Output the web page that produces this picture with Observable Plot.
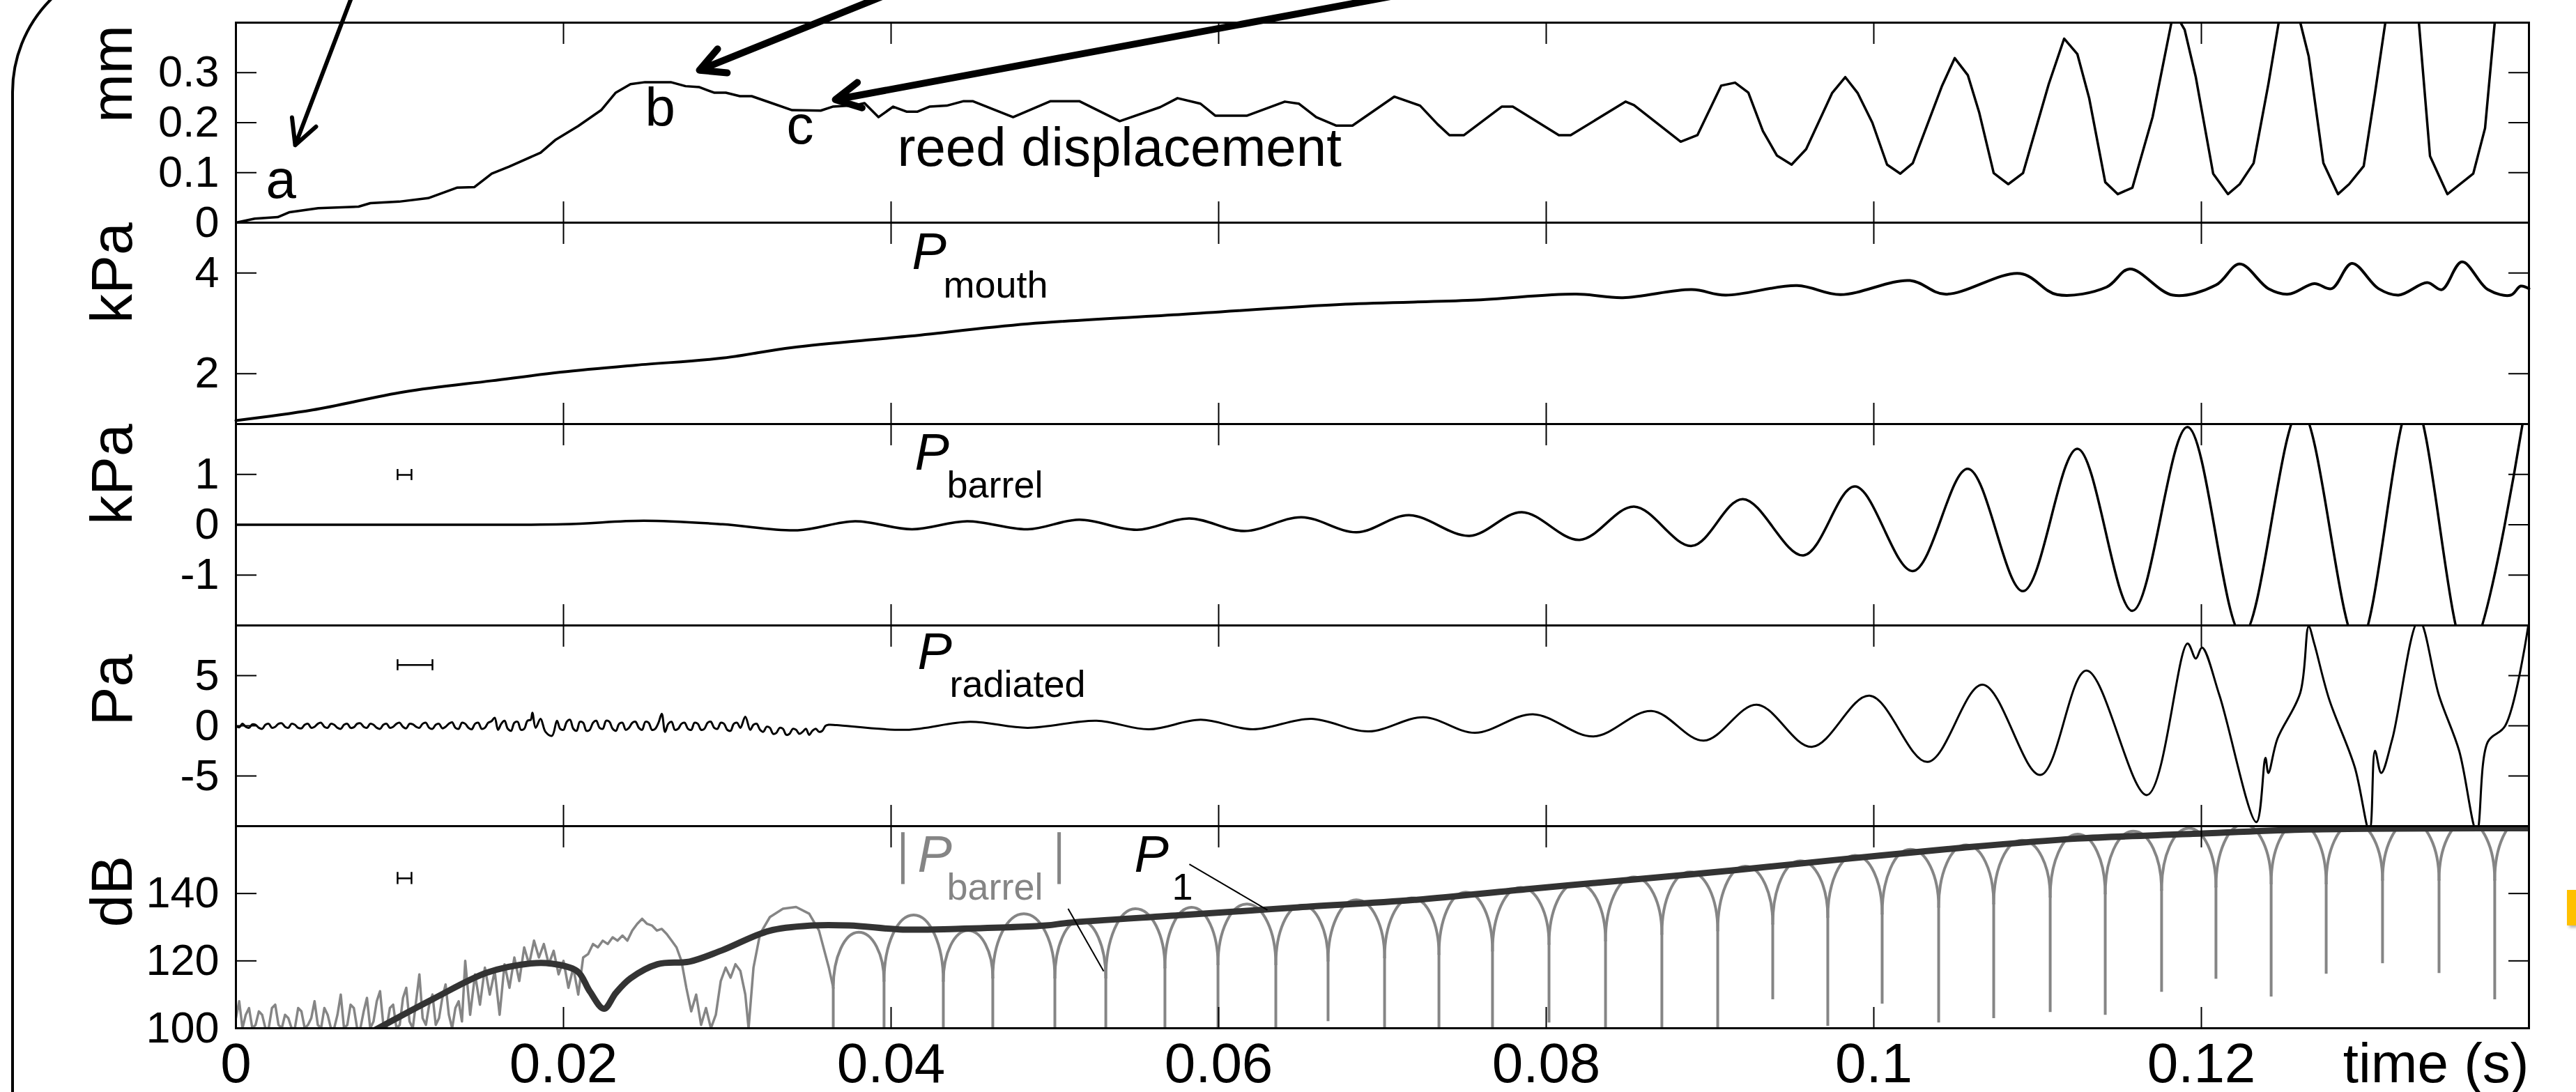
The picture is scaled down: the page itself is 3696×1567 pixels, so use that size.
<!DOCTYPE html>
<html>
<head>
<meta charset="utf-8">
<script src="https://cdn.jsdelivr.net/npm/d3@7"></script>
<script src="https://cdn.jsdelivr.net/npm/@observablehq/plot@0.6"></script>
<style>
html, body { margin: 0; padding: 0; background: #fff; }
body { width: 3696px; height: 1567px; overflow: hidden; position: relative; font-family: "Liberation Sans", Arial, sans-serif; }
#chart { position: absolute; left: 0; top: 0; width: 3696px; height: 1567px; }
.slide-frame { position: absolute; left: 16px; top: -58px; width: 4200px; height: 2200px; border: 4px solid #000; border-radius: 190px; box-sizing: border-box; }
.tab { position: absolute; left: 3683px; top: 1277px; width: 13px; height: 51px; background: #FFC000; box-shadow: 3px 3px 4px rgba(0,0,0,0.3); }
</style>
</head>
<body>
<div class="slide-frame"></div>
<div class="tab"></div>
<div id="chart"></div>
<script>
// ---------------- DATA ----------------
const xTicks = [0, 0.02, 0.04, 0.06, 0.08, 0.1, 0.12];

// Panel 1: reed displacement (mm) — [time s, mm]
const reedDisplacement = [
  [0,0],[0.00115,0.008],[0.00255,0.011],[0.00328,0.021],[0.00502,0.029],[0.00749,0.032],[0.00821,0.039],
  [0.00996,0.042],[0.01174,0.049],[0.01349,0.070],[0.01455,0.071],[0.01562,0.098],[0.01668,0.112],
  [0.0186,0.140],[0.01949,0.165],[0.02089,0.193],[0.0223,0.225],[0.02319,0.260],[0.02409,0.277],
  [0.02498,0.281],[0.02655,0.281],[0.02745,0.273],[0.0283,0.271],[0.02919,0.260],[0.02991,0.260],
  [0.03077,0.253],[0.03149,0.253],[0.03272,0.239],[0.03396,0.225],[0.0357,0.224],[0.03643,0.232],
  [0.03783,0.235],[0.03838,0.239],[0.03923,0.211],[0.04013,0.232],[0.04094,0.222],[0.04162,0.222],
  [0.04234,0.232],[0.0434,0.234],[0.04443,0.243],[0.04498,0.243],[0.04745,0.211],[0.04974,0.243],
  [0.05149,0.243],[0.05396,0.203],[0.05643,0.231],[0.05749,0.249],[0.05889,0.238],[0.05979,0.214],
  [0.06174,0.214],[0.06404,0.242],[0.06489,0.238],[0.06596,0.211],[0.06719,0.194],[0.06817,0.194],
  [0.07072,0.252],[0.0723,0.234],[0.07336,0.197],[0.07409,0.175],[0.07498,0.175],[0.07728,0.232],
  [0.07796,0.232],[0.08077,0.175],[0.08149,0.175],[0.08485,0.242],[0.08536,0.235],[0.08821,0.162],
  [0.08923,0.175],[0.09068,0.274],[0.09153,0.280],[0.09234,0.260],[0.09323,0.183],[0.09409,0.134],
  [0.09498,0.116],[0.09587,0.147],[0.09745,0.259],[0.09826,0.291],[0.09902,0.259],[0.09991,0.200],
  [0.10081,0.116],[0.10162,0.098],[0.10238,0.119],[0.10417,0.274],[0.10494,0.329],[0.10574,0.295],
  [0.10643,0.221],[0.10732,0.099],[0.10821,0.077],[0.10911,0.099],[0.11068,0.277],[0.11162,0.368],
  [0.11243,0.337],[0.11315,0.249],[0.11413,0.081],[0.11489,0.057],[0.11579,0.070],[0.11702,0.211],
  [0.11817,0.400],[0.11855,0.41],[0.11898,0.386],[0.11966,0.291],[0.12072,0.098],[0.12162,0.057],
  [0.12234,0.077],[0.12319,0.119],[0.12409,0.277],[0.12472,0.40],[0.1254,0.46],[0.12604,0.40],
  [0.12655,0.333],[0.12745,0.119],[0.12834,0.057],[0.12902,0.077],[0.12991,0.113],[0.1306,0.259],
  [0.13123,0.40],[0.13226,0.48],[0.13328,0.40],[0.13396,0.133],[0.13502,0.057],[0.1366,0.098],
  [0.13732,0.189],[0.13791,0.40],[0.13979,0.55]
];

// Panel 2: mouth pressure (kPa)
const mouthPressure = [
  [0,1.07],[0.00468,1.28],[0.0103,1.64],[0.01562,1.86],[0.01983,2.03],[0.02443,2.17],[0.0297,2.31],
  [0.03396,2.52],[0.04094,2.74],[0.04834,2.99],[0.05783,3.18],[0.06774,3.38],[0.07549,3.46],
  [0.08183,3.58],[0.08468,3.51],[0.08889,3.67],[0.09094,3.56],[0.09532,3.75],[0.09796,3.57],
  [0.10221,3.85],[0.10434,3.58],[0.10894,3.99],[0.11119,3.57],[0.11421,3.72],[0.11562,4.08],
  [0.11826,3.56],[0.12089,3.76],[0.12234,4.18],[0.12409,3.69],[0.12532,3.58],[0.12689,3.79],
  [0.12796,3.69],[0.12919,4.19],[0.13081,3.69],[0.13204,3.56],[0.13379,3.81],[0.13468,3.67],
  [0.13591,4.22],[0.13749,3.67],[0.13889,3.56],[0.13949,3.74],[0.14,3.69]
];

// Panel 3: barrel pressure (kPa)
const barrelPressure = [
  [0,0],[0.0111,0.0],[0.02,0.01],[0.0249,0.08],[0.0297,0.01],[0.0343,-0.11],[0.0378,0.07],
  [0.04128,-0.09],[0.04464,0.07],[0.04834,-0.09],[0.05149,0.10],[0.05502,-0.10],[0.05821,0.125],
  [0.06157,-0.125],[0.06506,0.15],[0.06843,-0.15],[0.07162,0.19],[0.07532,-0.22],[0.07851,0.25],
  [0.08204,-0.30],[0.08536,0.36],[0.08889,-0.42],[0.092,0.51],[0.0957,-0.61],[0.09885,0.76],
  [0.10238,-0.92],[0.10574,1.11],[0.10911,-1.32],[0.11243,1.51],[0.11579,-1.71],[0.11915,1.94],
  [0.12251,-2.2],[0.12604,2.3],[0.12957,-2.4],[0.13289,2.5],[0.13626,-2.6],[0.1399,2.6]
];

// Panel 4: radiated pressure (Pa)
const radiatedPressure = [
  [0,0.0],[0.0002,-0.15],[0.0004,0.2],[0.0006,-0.1],[0.0008,-0.2],[0.001,0.15],[0.0012,0.1],[0.0014,-0.2],
  [0.0016,-0.3],[0.0018,0.1],[0.002,0.2],[0.0022,-0.2],[0.0024,-0.1],[0.0026,0.2],[0.0028,0.25],
  [0.003,-0.1],[0.0032,-0.2],[0.0034,0.2],[0.0036,0.1],[0.0038,-0.2],[0.004,-0.25],[0.0042,0.1],
  [0.0044,0.2],[0.0046,-0.2],[0.0048,-0.1],[0.005,0.2],[0.0052,0.3],[0.0054,-0.1],[0.0056,-0.2],
  [0.0058,0.2],[0.006,0.1],[0.0062,-0.2],[0.0064,-0.3],[0.0066,0.1],[0.0068,0.2],[0.007,-0.2],
  [0.0072,-0.15],[0.0074,0.2],[0.0076,0.25],[0.0078,-0.1],[0.008,-0.2],[0.0082,0.2],[0.0084,0.1],
  [0.0086,-0.2],[0.0088,-0.3],[0.009,0.1],[0.0092,0.2],[0.0094,-0.2],[0.0096,-0.1],[0.0098,0.2],
  [0.01,0.3],[0.0102,-0.1],[0.0104,-0.25],[0.0106,0.2],[0.0108,0.15],[0.011,-0.1],[0.0112,-0.2],
  [0.0114,0.2],[0.0116,0.3],[0.0118,-0.2],[0.012,-0.3],[0.0122,0.1],[0.0124,0.2],[0.0126,-0.25],
  [0.0128,-0.1],[0.013,0.2],[0.0132,0.35],[0.0134,-0.2],[0.0136,-0.3],[0.0138,0.3],[0.014,0.2],
  [0.0142,-0.2],[0.0144,-0.35],[0.0146,0.2],[0.0148,0.3],[0.015,-0.3],[0.0152,-0.2],[0.0154,0.3],
  [0.0156,0.45],[0.0158,0.8],[0.016,-0.4],[0.0162,0.2],[0.0164,0.5],[0.0166,-0.3],[0.0168,-0.5],
  [0.017,0.3],[0.0172,0.4],[0.0174,-0.4],[0.0176,-0.3],[0.0178,0.5],[0.018,0.6],[0.0181,1.3],
  [0.0183,-0.2],[0.0186,0.7],[0.0189,-0.6],[0.0193,-1.0],[0.0196,0.5],[0.0198,-0.3],[0.02,-0.4],
  [0.0202,0.4],[0.0204,0.6],[0.0206,-0.3],[0.0208,-0.5],[0.021,0.4],[0.0212,0.3],[0.0214,-0.5],
  [0.0216,-0.4],[0.0218,0.3],[0.022,0.5],[0.0222,-0.2],[0.0224,-0.3],[0.0226,0.5],[0.0228,0.4],
  [0.023,-0.3],[0.0232,-0.5],[0.0234,0.2],[0.0236,0.3],[0.0238,-0.4],[0.024,-0.2],[0.0242,0.3],
  [0.0244,0.4],[0.0246,-0.2],[0.0248,-0.4],[0.025,0.4],[0.0252,0.3],[0.0254,-0.4],[0.0256,-0.3],
  [0.0258,0.3],[0.026,1.2],[0.0262,-0.6],[0.0264,0.2],[0.0266,0.4],[0.0268,-0.4],[0.027,-0.3],
  [0.0272,0.2],[0.0274,0.3],[0.0276,-0.3],[0.0278,-0.4],[0.028,0.3],[0.0282,0.2],[0.0284,-0.4],
  [0.0286,-0.3],[0.0288,0.3],[0.029,0.4],[0.0292,-0.2],[0.0294,-0.3],[0.0296,0.3],[0.0298,0.2],
  [0.03,-0.4],[0.0302,-0.5],[0.0304,0.2],[0.0306,0.3],[0.0308,-0.2],[0.0311,0.9],[0.0314,-0.4],
  [0.0316,0.1],[0.0318,0.2],[0.032,-0.4],[0.0322,-0.6],[0.0324,-0.1],[0.0326,-0.2],[0.0328,-0.8],
  [0.033,-0.7],[0.0332,-0.2],[0.0334,-0.3],[0.0336,-0.9],[0.0338,-0.8],[0.034,-0.3],[0.0342,-0.4],
  [0.0344,-0.8],[0.0346,-0.6],[0.0348,-0.3],[0.035,-0.9],[0.0352,-0.5],[0.0354,-0.3],[0.0356,-0.6],
  [0.0358,-0.5],[0.036,0.0],[0.0362,0.1],[0.03668,0.07],[0.04094,-0.4],[0.04481,0.4],[0.04834,-0.2],
  [0.05255,0.5],[0.05574,-0.35],[0.0589,0.6],[0.06209,-0.35],[0.06566,0.7],[0.06915,-0.56],
  [0.07251,0.85],[0.07566,-0.7],[0.07919,1.15],[0.08289,-1.06],[0.08643,1.48],[0.08962,-1.48],
  [0.09285,2.1],[0.09621,-2.1],[0.09974,3.0],[0.10328,-3.6],[0.10664,4.1],[0.11017,-4.9],
  [0.11298,5.5],[0.11668,-6.9],[0.11915,8.2],[0.11966,6.7],[0.12004,7.8],[0.12111,3.0],
  [0.12336,-9.6],[0.12391,-3.2],[0.12409,-4.7],[0.12464,-1.3],[0.12604,3.3],[0.12655,9.9],
  [0.12689,8.2],[0.12779,2.7],[0.12936,-4.1],[0.13026,-10.5],[0.1306,-2.5],[0.13098,-4.7],
  [0.13166,-1.3],[0.13328,10.5],[0.13451,3.0],[0.13574,-2.5],[0.13681,-10.5],[0.13749,-1.6],
  [0.13855,0],[0.13996,10]
];

// Panel 5: |P_barrel| in dB — noisy onset
const barrelDbOnset = [
  [0,103],[0.0002,108],[0.0004,100],[0.0006,104],[0.0008,106],[0.001,100],[0.0012,101],[0.0014,105],
  [0.0016,104],[0.0018,100],[0.002,100],[0.0022,106],[0.0024,107],[0.0026,101],[0.0028,100],[0.003,104],
  [0.0032,103],[0.0034,100],[0.0036,100],[0.0038,106],[0.004,105],[0.0042,100],[0.0044,101],[0.0046,103],
  [0.0048,108],[0.005,101],[0.0052,100],[0.0054,106],[0.0056,104],[0.0058,100],[0.006,100],[0.0062,104],
  [0.0064,110],[0.0066,100],[0.0068,101],[0.007,107],[0.0072,106],[0.0074,100],[0.0076,100],[0.0078,105],
  [0.008,109],[0.0082,100],[0.0084,102],[0.0086,108],[0.0088,111],[0.009,101],[0.0092,100],[0.0094,106],
  [0.0096,107],[0.0098,100],[0.01,101],[0.0102,109],[0.0104,112],[0.0106,102],[0.0108,100],[0.011,108],
  [0.0112,116],[0.0114,103],[0.0116,101],[0.0118,107],[0.012,110],[0.0122,101],[0.0124,103],[0.0126,109],
  [0.0128,113],[0.013,104],[0.0132,100],[0.0134,106],[0.0136,108],[0.0138,102],[0.014,120],[0.0143,104],
  [0.0146,116],[0.0149,107],[0.0152,118],[0.0155,110],[0.0158,117],[0.0161,104],[0.0164,119],[0.0167,112],
  [0.017,121],[0.0173,114],[0.0176,124],[0.0179,119],[0.0182,126],[0.0185,121],[0.0188,125],[0.0191,119],
  [0.0194,123],[0.0197,116],[0.02,120],[0.0203,112],[0.0206,118],[0.0209,110],[0.0212,121],[0.0215,122],
  [0.0218,125],[0.0221,124],[0.0224,126],[0.0227,125],[0.023,127],[0.0233,126],[0.0236,127.5],[0.0239,126],
  [0.0242,129],[0.0245,131],[0.0248,132.5],[0.0251,131],[0.0254,130.5],[0.0257,129],[0.026,129.5],
  [0.0263,128],[0.0266,126],[0.0269,124],[0.0272,120],[0.0275,112],[0.0278,105],[0.0281,110],[0.0284,101],
  [0.0287,106],[0.029,100],[0.0293,104],[0.0296,114],[0.0299,118],[0.0302,115],[0.0305,119],[0.0308,117],
  [0.0311,110],[0.0313,100],[0.0316,118],[0.032,128],[0.0326,133],[0.0334,135.5],[0.0342,136],[0.035,134],
  [0.0356,129],[0.0362,118],[0.03647,112]
];
// |P_barrel| dB — cusps (zero crossings) after the onset
const dipTimes    = [0.03647,0.03957,0.04319,0.04621,0.05,0.05311,0.05672,0.05996,0.06349,0.06668,0.07013,
  0.07345,0.07672,0.08017,0.08362,0.08706,0.09047,0.09383,0.09719,0.10051,0.10396,0.10732,0.11077,
  0.11413,0.11757,0.12089,0.12426,0.12762,0.13106,0.13451,0.13791,0.14128];
const junctionDb  = [112,114,114,115,115,115,118,119,119,120,121,122,123,125,126,128,129,131,133,134,136,
  137,139,140,141,142,143,143,144,144,144,145];
const dipMinDb    = [100,100,100,100,100,100,100,100,100,102,100,100,100,101.6,100,100,100.2,108.5,100.6,
  107.2,101.6,102.9,104.7,103.9,110.7,114.6,109.3,116.1,119.2,116.3,108.5];
const archPeakDb  = [128.5,133.6,129,134,132,135.5,135.9,136.9,136.5,138.1,138.7,140.4,141.8,143.1,144.9,
  146.4,148.1,149.7,151.3,153.1,154.4,155.8,157.6,158.5,159.4,160.5,161,161,161.5,161.5,162];

// P1 (fundamental) in dB
const p1Db = [
  [0.0085,99.5],[0.01204,108.7],[0.01532,116.5],[0.01791,119.2],[0.01923,119.2],[0.02085,116.9],
  [0.0216,111],[0.02247,105.8],[0.0232,110.5],[0.02409,114.8],[0.02574,119],[0.0277,119.8],
  [0.02966,123.1],[0.03255,128.9],[0.03519,130.5],[0.03745,130.5],[0.04072,129.3],[0.04396,129.5],
  [0.04945,130.5],[0.05081,131.3],[0.05783,133.6],[0.06489,135.9],[0.07196,138.1],[0.07902,141.4],
  [0.08609,144.5],[0.09128,146.8],[0.09834,150.3],[0.1054,153.6],[0.11243,156.3],[0.11949,157.7],
  [0.12655,159],[0.14,159.4]
];

// Annotations (data coordinates)
const reedLabels = [
  {t: 0.00183, v: 0.05, text: "a"},
  {t: 0.02498, v: 0.193, text: "b"},
  {t: 0.03362, v: 0.158, text: "c"},
  {t: 0.04038, v: 0.113, text: "reed displacement"}
];
const thinArrows  = [{t1: 0.00732, v1: 0.473, t2: 0.00362, v2: 0.155}];
const thickArrows = [
  {t1: 0.04102, v1: 0.473, t2: 0.0283, v2: 0.305},
  {t1: 0.0739,  v1: 0.473, t2: 0.0366, v2: 0.246}
];

// ---------------- DRAWING ----------------
const W = 3696, ML = 338, MR = 68;
const FONT = "'Liberation Sans', Arial, Helvetica, sans-serif";
const GRAY = "#858585";
const rows = arr => arr.map(([t, v]) => ({t, v}));

// Curve style for the |P| arches: vertical tangent at the cusp, horizontal at the crest.
function curveArch(context) {
  let x0, y0, n = 0;
  return {
    areaStart() {}, areaEnd() {},
    lineStart() { n = 0; },
    lineEnd() {},
    point(x, y) {
      x = +x; y = +y;
      if (n === 0) context.moveTo(x, y);
      else if (y < y0) context.bezierCurveTo(x0, y0 + (y - y0) * 0.55, x - (x - x0) * 0.55, y, x, y);
      else context.bezierCurveTo(x0 + (x - x0) * 0.55, y0, x, y - (y - y0) * 0.55, x, y);
      x0 = x; y0 = y; n++;
    }
  };
}

function panel({top, height, marginTop = 0, marginBottom = 0, yDomain, yTicks, unit, xLabels = false, marks}) {
  const all = [
    ...marks,
    Plot.frame({strokeWidth: 3}),
    Plot.axisX({anchor: "top", ticks: xTicks, tickSize: -30, strokeWidth: 2, tickFormat: () => "", label: null}),
    Plot.axisX({anchor: "bottom", ticks: xTicks, tickSize: -30, tickPadding: 51, strokeWidth: 2, fontSize: 80,
      tickFormat: xLabels ? (d => String(d)) : (() => ""), label: null}),
    Plot.axisY({anchor: "left", ticks: yTicks, tickSize: -30, tickPadding: 54, strokeWidth: 2, fontSize: 63,
      tickFormat: d => String(d), label: null}),
    Plot.axisY({anchor: "right", ticks: yTicks, tickSize: -30, strokeWidth: 2, tickFormat: () => "", label: null}),
    Plot.text([unit], {frameAnchor: "left", dx: -150, rotate: -90, lineAnchor: "bottom", fontSize: 84})
  ];
  const svg = Plot.plot({
    width: W, height, marginLeft: ML, marginRight: MR, marginTop, marginBottom,
    x: {domain: [0, 0.14], axis: null},
    y: {domain: yDomain, axis: null},
    style: `position:absolute;left:0;top:${top}px;overflow:visible;background:transparent;font-family:${FONT};max-width:none;`,
    marks: all
  });
  document.getElementById("chart").appendChild(svg);
}

function subLabel(t, v, ts, vs, main, sub, color = "black") {
  return [
    Plot.text([main], {x: () => t, y: () => v, textAnchor: "start", lineAnchor: "bottom", fontSize: 74, fontStyle: "italic", fill: color}),
    Plot.text([sub], {x: () => ts, y: () => vs, textAnchor: "start", lineAnchor: "bottom", fontSize: 54, fill: color})
  ];
}

// Panel 1
panel({
  top: 0, height: 319, marginTop: 32, yDomain: [0, 0.4], yTicks: [0, 0.1, 0.2, 0.3], unit: "mm",
  marks: [
    Plot.line(rows(reedDisplacement), {x: "t", y: "v", strokeWidth: 3.5, clip: true}),
    Plot.text(reedLabels, {x: "t", y: "v", text: "text", textAnchor: "start", lineAnchor: "bottom", fontSize: 78}),
    Plot.arrow(thinArrows, {x1: "t1", y1: "v1", x2: "t2", y2: "v2", strokeWidth: 6, headLength: 10, headAngle: 55}),
    Plot.arrow(thickArrows, {x1: "t1", y1: "v1", x2: "t2", y2: "v2", strokeWidth: 10, headLength: 6, headAngle: 55})
  ]
});

// Panel 2
panel({
  top: 319, height: 289, yDomain: [1, 5], yTicks: [2, 4], unit: "kPa",
  marks: [
    Plot.line(rows(mouthPressure), {x: "t", y: "v", curve: "catmull-rom", strokeWidth: 4}),
    ...subLabel(0.04128, 4.08, 0.04319, 3.51, "P", "mouth")
  ]
});

// Panel 3
panel({
  top: 608, height: 289, yDomain: [-2, 2], yTicks: [-1, 0, 1], unit: "kPa",
  marks: [
    Plot.line(rows(barrelPressure), {x: "t", y: "v", curve: "catmull-rom", strokeWidth: 3.5, clip: true}),
    ...subLabel(0.04145, 1.10, 0.0434, 0.54, "P", "barrel"),
    Plot.ruleY([0.99], {x1: 0.00987, x2: 0.01072, strokeWidth: 2.5}),
    Plot.ruleX([0.00987, 0.01072], {y1: 0.88, y2: 1.1, strokeWidth: 2.5})
  ]
});

// Panel 4
panel({
  top: 897, height: 288, yDomain: [-10, 10], yTicks: [-5, 0, 5], unit: "Pa",
  marks: [
    Plot.line(rows(radiatedPressure), {x: "t", y: "v", curve: "catmull-rom", strokeWidth: 3, clip: true}),
    ...subLabel(0.04162, 5.63, 0.04357, 2.89, "P", "radiated"),
    Plot.ruleY([6.06], {x1: 0.00987, x2: 0.012, strokeWidth: 2.5}),
    Plot.ruleX([0.00987, 0.012], {y1: 5.5, y2: 6.6, strokeWidth: 2.5})
  ]
});

// Panel 5
const archRows = [];
for (let i = 0; i < archPeakDb.length; i++) {
  const t0 = dipTimes[i], t1 = dipTimes[i + 1];
  archRows.push({arch: i, t: t0, v: junctionDb[i]}, {arch: i, t: (t0 + t1) / 2, v: archPeakDb[i]}, {arch: i, t: t1, v: junctionDb[i + 1]});
}
const dipRows = dipMinDb.map((m, i) => ({t: dipTimes[i], lo: m, hi: junctionDb[i]}));

panel({
  top: 1185, height: 382, marginBottom: 92, yDomain: [100, 160], yTicks: [100, 120, 140], unit: "dB", xLabels: true,
  marks: [
    Plot.line(rows(barrelDbOnset), {x: "t", y: "v", stroke: GRAY, strokeWidth: 3.5, clip: true}),
    Plot.line(archRows, {x: "t", y: "v", z: "arch", curve: curveArch, stroke: GRAY, strokeWidth: 4, clip: true}),
    Plot.ruleX(dipRows, {x: "t", y1: "lo", y2: "hi", stroke: GRAY, strokeWidth: 4, clip: true}),
    Plot.line(rows(p1Db), {x: "t", y: "v", curve: "catmull-rom", stroke: "#333", strokeWidth: 9, clip: true}),
    Plot.ruleX([0.04072, 0.05026], {y1: 142.7, y2: 158.1, stroke: GRAY, strokeWidth: 5}),
    ...subLabel(0.04162, 146.4, 0.0434, 138.1, "P", "barrel", GRAY),
    ...subLabel(0.05485, 146.4, 0.05715, 138.1, "P", "1"),
    Plot.link([{a: 0.05081, b: 135.5, c: 0.05298, d: 116.9}, {a: 0.05821, b: 148.7, c: 0.06298, d: 135.1}],
      {x1: "a", y1: "b", x2: "c", y2: "d", strokeWidth: 2}),
    Plot.ruleY([144.5], {x1: 0.00987, x2: 0.01072, strokeWidth: 2.5}),
    Plot.ruleX([0.00987, 0.01072], {y1: 142.7, y2: 146.3, strokeWidth: 2.5}),
    Plot.text(["time (s)"], {frameAnchor: "bottom-right", textAnchor: "end", lineAnchor: "top", dy: 21, fontSize: 80})
  ]
});
</script>
</body>
</html>
